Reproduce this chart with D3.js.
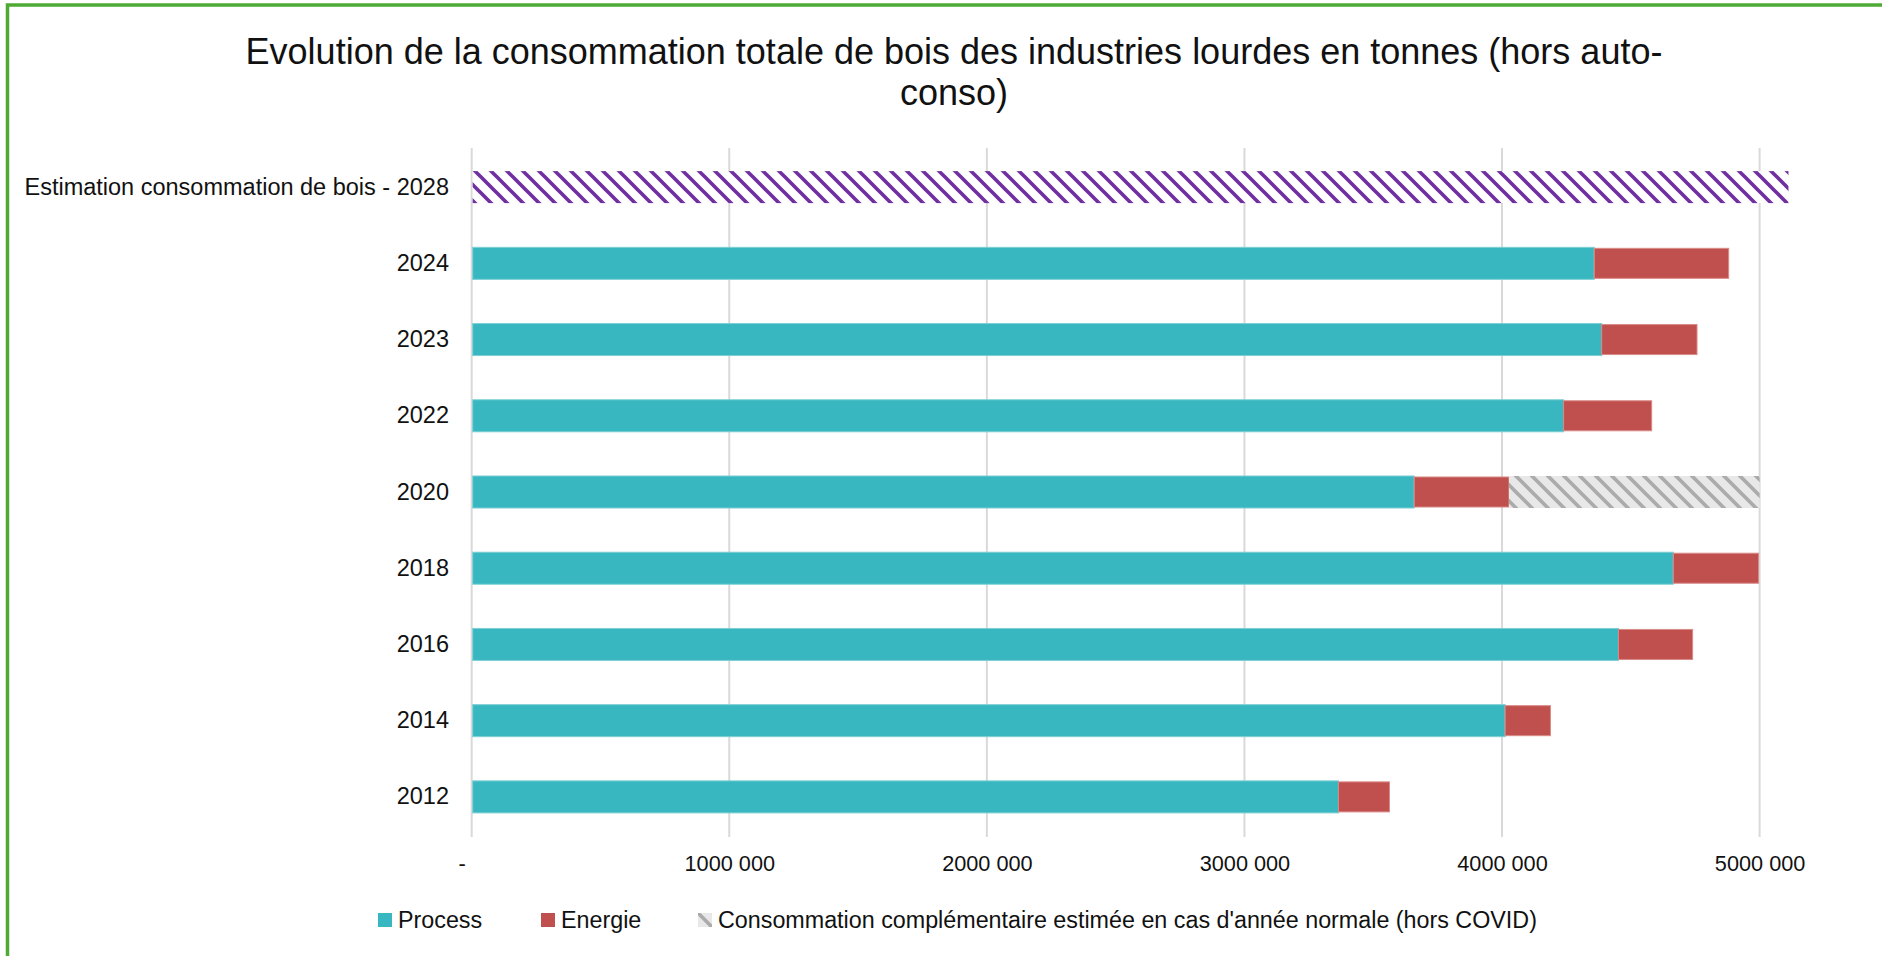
<!DOCTYPE html>
<html><head><meta charset="utf-8">
<script src="https://cdn.jsdelivr.net/npm/d3@7"></script>
<style>html,body{margin:0;padding:0;background:#fff;overflow:hidden}svg{display:block}</style>
</head><body>
<svg id="chart" width="1882" height="956"></svg>
<script>
const categories = ["Estimation consommation de bois - 2028","2024","2023","2022","2020","2018","2016","2014","2012"];
const process    = [0, 4358000, 4387000, 4239000, 3659000, 4665000, 4452000, 4012000, 3365000];
const energie    = [0,  522000,  370000,  342000,  368000,  331000,  288000,  176000,  198000];
const complement = [0, 0, 0, 0, 973000, 0, 0, 0, 0];
const estimation = [5112000, 0, 0, 0, 0, 0, 0, 0, 0];
const tickValues = [0, 1000000, 2000000, 3000000, 4000000, 5000000];
const tickLabels = ["-", "1000 000", "2000 000", "3000 000", "4000 000", "5000 000"];
const titleLines = ["Evolution de la consommation totale de bois des industries lourdes en tonnes (hors auto-", "conso)"];
const legendItems = ["Process", "Energie", "Consommation complémentaire estimée en cas d'année normale (hors COVID)"];

const FONT = "'Liberation Sans', Arial, sans-serif";
const svg = d3.select("#chart");
const defs = svg.append("defs");

function hatch(id, bg, fg) {
  const p = defs.append("pattern").attr("id", id).attr("patternUnits", "userSpaceOnUse")
    .attr("width", 16).attr("height", 16);
  p.append("rect").attr("width", 16).attr("height", 16).attr("fill", bg);
  const h = 2.6;
  p.append("path").attr("fill", fg)
    .attr("d", `M0,0 L${h},0 L16,${16-h} L16,16 L${16-h},16 L0,${h}Z M${16-h},0 L16,0 L16,${h}Z M0,${16-h} L0,16 L${h},16Z`);
}
hatch("purpleHatch", "#ffffff", "#7030A0");
hatch("greyHatch", "#E8E8E8", "#ABABAB");

// frame
svg.append("rect").attr("x", 7.5).attr("y", 5).attr("width", 1900).attr("height", 1000)
  .attr("fill", "none").attr("stroke", "#4EAA34").attr("stroke-width", 3.5);

// title
svg.append("g").selectAll("text").data(titleLines).join("text")
  .attr("x", 954).attr("y", (d, i) => 64 + i * 41)
  .attr("text-anchor", "middle").attr("font-family", FONT).attr("font-size", 36).attr("fill", "#111")
  .text(d => d);

const x = d3.scaleLinear().domain([0, 5000000]).range([471.7, 1759.6]);
const y = d3.scaleBand().domain(categories).range([149, 835]).paddingInner(0.58).paddingOuter(0.29);

// gridlines
svg.append("g").selectAll("line").data(tickValues).join("line")
  .attr("x1", d => x(d)).attr("x2", d => x(d)).attr("y1", 148).attr("y2", 837)
  .attr("stroke", "#D9D9D9").attr("stroke-width", 2);

// x axis labels
const xAxis = d3.axisBottom(x).tickValues(tickValues).tickSize(0)
  .tickFormat((d, i) => tickLabels[i]);
const gx = svg.append("g").attr("transform", "translate(0,853)").call(xAxis);
gx.select(".domain").remove();
gx.selectAll("text").attr("font-family", FONT).attr("font-size", 21.7).attr("fill", "#111");
gx.selectAll(".tick").filter((d, i) => i === 0).select("text").attr("dx", -10);

// y labels
const yAxis = d3.axisLeft(y).tickSize(0).tickPadding(0);
const gy = svg.append("g").attr("transform", "translate(449,0)").call(yAxis);
gy.select(".domain").remove();
gy.selectAll("text").attr("font-family", FONT).attr("font-size", 23.5).attr("fill", "#111");

const bh = y.bandwidth();
const bars = svg.append("g");
// estimation
bars.selectAll(".est").data(categories.map((c, i) => ({c, v: estimation[i]})).filter(d => d.v > 0)).join("rect")
  .attr("x", x(0) + 1).attr("y", d => y(d.c)).attr("width", d => x(d.v) - x(0) - 1).attr("height", bh)
  .attr("fill", "url(#purpleHatch)");
// process
bars.selectAll(".pro").data(categories.map((c, i) => ({c, v: process[i]})).filter(d => d.v > 0)).join("rect")
  .attr("x", x(0) + 1).attr("y", d => y(d.c)).attr("width", d => x(d.v) - x(0) - 1).attr("height", bh)
  .attr("fill", "#38B7C0").attr("stroke", "#7ccfd5").attr("stroke-width", 1);
// energie
bars.selectAll(".ene").data(categories.map((c, i) => ({c, p: process[i], v: energie[i]})).filter(d => d.v > 0)).join("rect")
  .attr("x", d => x(d.p)).attr("y", d => y(d.c) + 1).attr("width", d => x(d.p + d.v) - x(d.p)).attr("height", bh - 2)
  .attr("fill", "#C0504D").attr("stroke", "#d98a88").attr("stroke-width", 1);
// complement
bars.selectAll(".com").data(categories.map((c, i) => ({c, s: process[i] + energie[i], v: complement[i]})).filter(d => d.v > 0)).join("rect")
  .attr("x", d => x(d.s)).attr("y", d => y(d.c)).attr("width", d => x(d.s + d.v) - x(d.s)).attr("height", bh)
  .attr("fill", "url(#greyHatch)");

// legend
const legendX = [378, 541, 698];
const legendFill = ["#38B7C0", "#C0504D", "url(#greyHatch)"];
const lg = svg.append("g").selectAll("g").data(legendItems).join("g")
  .attr("transform", (d, i) => `translate(${legendX[i]},913)`);
lg.append("rect").attr("width", 14).attr("height", 14).attr("fill", (d, i) => legendFill[i]);
lg.append("text").attr("x", 20).attr("y", 7).attr("dy", "0.36em")
  .attr("font-family", FONT).attr("font-size", 23.3).attr("fill", "#111").text(d => d);
</script>
</body></html>
